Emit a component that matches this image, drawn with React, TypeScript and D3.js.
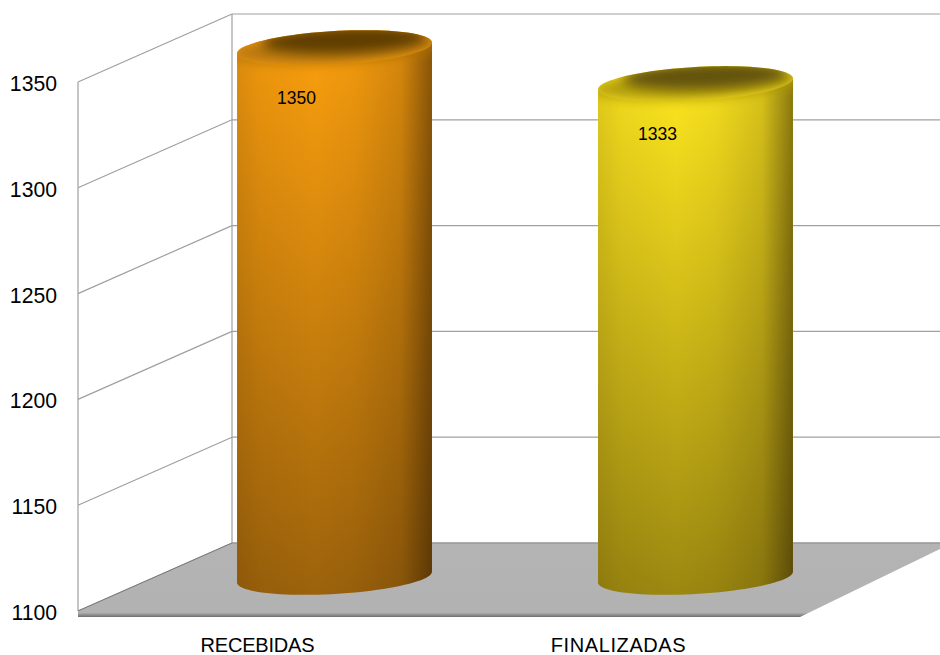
import { useEffect, useRef } from 'react';
import * as d3 from 'd3';

const categories = ['RECEBIDAS', 'FINALIZADAS'];
const values = [1350, 1333];
const yTicks = [1100, 1150, 1200, 1250, 1300, 1350];
const topColors = ['#fca00e', '#ffe81f'];
const bottomColors = ['#9c620b', '#9c8810'];
const capColors = ['#b87808', '#b5a010'];
const rimColors = ['#5f3e05', '#635208'];

const width = 940;
const height = 655;

export default function App() {
  const svgRef = useRef<SVGSVGElement>(null);

  useEffect(() => {
    if (!svgRef.current) return;
    const svg = d3.select(svgRef.current);
    svg.selectAll('*').remove();

    const font = '"Liberation Sans", Arial, sans-serif';
    const gridColor = '#a0a0a0';

    // Front plane scales, depth vector moves things onto the back wall
    const depth = { x: 154, y: -68 };
    const yScale = d3.scaleLinear().domain([1100, 1350]).range([611, 82]);
    const xScale = d3.scaleBand<string>()
      .domain(categories)
      .range([77, 799])
      .paddingInner(0.46)
      .paddingOuter(0.23);

    const defs = svg.append('defs');
    defs.append('filter').attr('id', 'soft')
      .attr('x', '-30%').attr('y', '-100%').attr('width', '160%').attr('height', '300%')
      .append('feGaussianBlur').attr('stdDeviation', 6);

    const floorGrad = defs.append('linearGradient').attr('id', 'floorEdge')
      .attr('x1', 0).attr('x2', 0).attr('y1', 0).attr('y2', 1);
    floorGrad.append('stop').attr('offset', 0).attr('stop-color', '#b4b4b4');
    floorGrad.append('stop').attr('offset', 0.94).attr('stop-color', '#b2b2b2');
    floorGrad.append('stop').attr('offset', 1).attr('stop-color', '#6e6e6e');

    const shade = defs.append('linearGradient').attr('id', 'sideShade');
    [[0, 0.12], [0.12, 0.05], [0.4, 0], [0.6, 0.04], [0.84, 0.16], [0.86, 0.2], [1, 0.5]].forEach(([o, a]) => {
      shade.append('stop').attr('offset', o).attr('stop-color', '#1a0d00').attr('stop-opacity', a);
    });

    // Walls
    const walls = svg.append('g');
    const back = yTicks.map(t => yScale(t) + depth.y);
    walls.selectAll('line.back').data(back).enter().append('line')
      .attr('class', 'back')
      .attr('x1', 78 + depth.x).attr('x2', width)
      .attr('y1', d => d).attr('y2', d => d)
      .attr('stroke', gridColor).attr('stroke-width', 1.2);
    walls.selectAll('line.side').data(yTicks).enter().append('line')
      .attr('class', 'side')
      .attr('x1', 78).attr('x2', 78 + depth.x)
      .attr('y1', d => yScale(d)).attr('y2', d => yScale(d) + depth.y)
      .attr('stroke', gridColor).attr('stroke-width', 1.2);
    walls.append('line')
      .attr('x1', 78).attr('x2', 78)
      .attr('y1', yScale(1350)).attr('y2', yScale(1100))
      .attr('stroke', gridColor).attr('stroke-width', 1.2);
    walls.append('line')
      .attr('x1', 78 + depth.x).attr('x2', 78 + depth.x)
      .attr('y1', yScale(1350) + depth.y).attr('y2', yScale(1100) + depth.y)
      .attr('stroke', gridColor).attr('stroke-width', 1.2);

    // Floor
    const fy = yScale(1100);
    svg.append('path')
      .attr('d', d3.line()([
        [78, fy],
        [78 + depth.x, fy + depth.y],
        [width, fy + depth.y],
        [width, fy + depth.y + 6],
        [800, fy + 6],
        [78, fy + 6],
      ]) + 'Z')
      .attr('fill', 'url(#floorEdge)');
    svg.append('line')
      .attr('x1', 78 + depth.x).attr('x2', width)
      .attr('y1', fy + depth.y).attr('y2', fy + depth.y)
      .attr('stroke', '#8c8c8c');
    svg.append('line')
      .attr('x1', 78).attr('x2', 78 + depth.x)
      .attr('y1', fy).attr('y2', fy + depth.y)
      .attr('stroke', '#7a7a7a');

    // Cylinders
    const angles = d3.range(0, 361, 4).map(d => d * Math.PI / 180);
    categories.forEach((cat, i) => {
      const w = xScale.bandwidth() / 2;
      const cx = xScale(cat)! + w + depth.x / 2;
      const topY = yScale(values[i]) + depth.y / 2;
      const botY = yScale(1100) + depth.y / 2;
      const px = (t: number) => cx + w * Math.cos(t);
      const py = (c: number, t: number) => c - 5.5 * Math.cos(t) + 17 * Math.sin(t);
      const lower = angles.filter(t => t <= Math.PI);
      const upper = angles.filter(t => t >= Math.PI);

      const bodyPts: [number, number][] = [
        ...lower.map(t => [px(t), py(topY, t)] as [number, number]),
        ...lower.slice().reverse().map(t => [px(t), py(botY, t)] as [number, number]),
      ];
      // whole silhouette, so the dark cap can bleed softly into the side
      const shapePts: [number, number][] = [
        ...upper.map(t => [px(t), py(topY, t)] as [number, number]),
        ...lower.map(t => [px(t), py(botY, t)] as [number, number]),
      ];

      const grad = defs.append('linearGradient').attr('id', `body${i}`)
        .attr('x1', 0).attr('x2', 0).attr('y1', 0).attr('y2', 1);
      grad.append('stop').attr('offset', 0).attr('stop-color', topColors[i]);
      grad.append('stop').attr('offset', 1).attr('stop-color', bottomColors[i]);

      defs.append('clipPath').attr('id', `shapeClip${i}`)
        .append('path').attr('d', d3.line()(shapePts) + 'Z');

      const g = svg.append('g');
      g.append('path').attr('d', d3.line()(shapePts) + 'Z').attr('fill', `url(#body${i})`);
      g.append('path').attr('d', d3.line()(bodyPts) + 'Z').attr('fill', 'url(#sideShade)');

      const cap = g.append('g').attr('clip-path', `url(#shapeClip${i})`);
      cap.append('ellipse')
        .attr('cx', cx).attr('cy', topY)
        .attr('rx', w * 1.08).attr('ry', 15)
        .attr('transform', `rotate(-3.2 ${cx} ${topY})`)
        .attr('fill', capColors[i])
        .attr('filter', 'url(#soft)');
      cap.append('ellipse')
        .attr('cx', cx + 10).attr('cy', topY - 8)
        .attr('rx', w * 0.85).attr('ry', 13)
        .attr('transform', `rotate(-2 ${cx + 10} ${topY - 8})`)
        .attr('fill', rimColors[i])
        .attr('filter', 'url(#soft)');

      g.append('text')
        .attr('x', cx - 38).attr('y', topY + 56)
        .attr('text-anchor', 'middle')
        .attr('font-family', font).attr('font-size', 17.5)
        .attr('fill', '#000')
        .text(values[i]);

      svg.append('text')
        .attr('x', xScale(cat)! + w).attr('y', 651.5)
        .attr('text-anchor', 'middle')
        .attr('font-family', font).attr('font-size', 20)
        .attr('letter-spacing', i === 0 ? -0.2 : 0.6)
        .attr('fill', '#000')
        .text(cat);
    });

    // Y labels
    svg.selectAll('text.ytick').data(yTicks).enter().append('text')
      .attr('class', 'ytick')
      .attr('x', 57).attr('y', d => yScale(d) + 9)
      .attr('text-anchor', 'end')
      .attr('font-family', font).attr('font-size', 21.2)
      .attr('fill', '#000')
      .text(d => d);
  }, []);

  return (
    <svg
      ref={svgRef}
      width={width}
      height={height}
      style={{ position: 'absolute', left: 0, top: 0, background: '#fff' }}
    />
  );
}
